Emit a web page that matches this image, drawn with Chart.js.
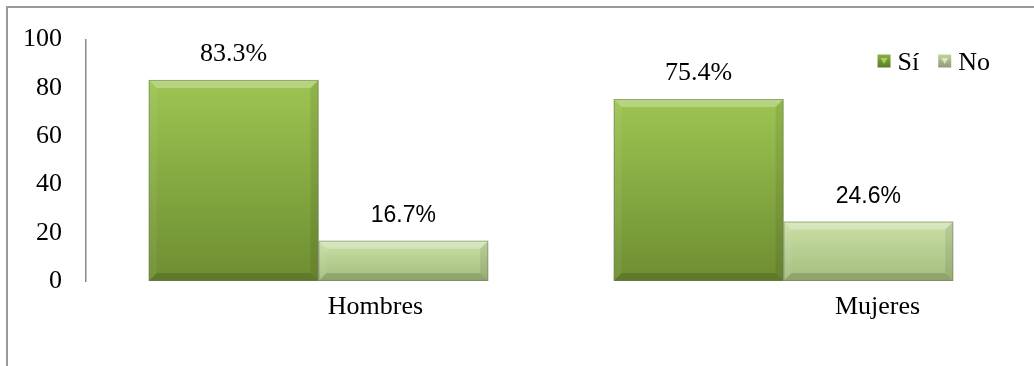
<!DOCTYPE html>
<html>
<head>
<meta charset="utf-8">
<script src="https://cdn.jsdelivr.net/npm/chart.js@4/dist/chart.umd.min.js"></script>
<style>
  html, body { margin: 0; padding: 0; background: #fff; }
  .wrap { position: relative; width: 1034px; height: 366px; overflow: hidden; }
  .frame { position: absolute; left: 6px; top: 6px; right: -10px; bottom: -10px;
           border-top: 2px solid #9a9a9a; border-left: 2px solid #9a9a9a; pointer-events: none; }
  canvas { display: block; }
</style>
</head>
<body>
<div class="wrap">
  <canvas id="chart" width="1034" height="366"></canvas>
  <div class="frame"></div>
</div>
<script>
const categories = ['Hombres', 'Mujeres']
const seriesNames = ['Sí', 'No']
const siValues = [83.3, 75.4]
const noValues = [16.7, 24.6]
const yTicks = [0, 20, 40, 60, 80, 100]

// top / bottom colours of each series' gradient
const fills = [
  ['#9dc552', '#6e8d31'],
  ['#cadfa6', '#a4bd7c']
]

const SERIF = '"Liberation Serif", "Times New Roman", serif'
const SANS = '"Liberation Sans", Arial, sans-serif'

function barGradient (idx) {
  return function (ctx) {
    const chart = ctx.chart
    const y = chart.scales && chart.scales.y
    if (!chart.chartArea || !y || ctx.raw == null) return fills[idx][0]
    const top = y.getPixelForValue(ctx.raw)
    const bottom = y.getPixelForValue(0)
    const g = chart.ctx.createLinearGradient(0, top, 0, bottom)
    g.addColorStop(0, fills[idx][0])
    g.addColorStop(1, fills[idx][1])
    return g
  }
}

// beveled edges on each bar
const bevelPlugin = {
  id: 'bevel',
  afterDatasetsDraw (chart) {
    const c = chart.ctx
    const b = 8
    chart.data.datasets.forEach((ds, i) => {
      chart.getDatasetMeta(i).data.forEach(bar => {
        const l = bar.x - bar.width / 2
        const r = bar.x + bar.width / 2
        const t = bar.y
        const bo = bar.base
        const poly = (pts, color) => {
          c.beginPath()
          c.moveTo(pts[0][0], pts[0][1])
          pts.slice(1).forEach(p => c.lineTo(p[0], p[1]))
          c.closePath()
          c.fillStyle = color
          c.fill()
        }
        c.save()
        poly([[l, t], [r, t], [r - b, t + b], [l + b, t + b]], 'rgba(255,255,255,0.28)')
        poly([[l, t], [l + b, t + b], [l + b, bo - b], [l, bo]], 'rgba(255,255,255,0.06)')
        poly([[r, t], [r, bo], [r - b, bo - b], [r - b, t + b]], 'rgba(0,0,0,0.08)')
        poly([[l, bo], [r, bo], [r - b, bo - b], [l + b, bo - b]], 'rgba(0,0,0,0.14)')
        c.strokeStyle = 'rgba(110,120,100,0.5)'
        c.lineWidth = 1
        c.strokeRect(l + 0.5, t + 0.5, bar.width - 1, bo - t - 1)
        c.restore()
      })
    })
  }
}

// value labels above the bars, category labels and the legend
const textPlugin = {
  id: 'texts',
  afterDraw (chart) {
    const c = chart.ctx
    const area = chart.chartArea
    c.save()
    c.fillStyle = '#000'
    c.textAlign = 'center'
    c.textBaseline = 'alphabetic'
    chart.data.datasets.forEach((ds, i) => {
      c.font = i === 0 ? '26px ' + SERIF : '23px ' + SANS
      chart.getDatasetMeta(i).data.forEach((bar, j) => {
        c.fillText(ds.data[j].toFixed(1) + '%', bar.x, bar.y - 19)
      })
    })

    const xs = chart.scales.x
    const shift = [57, 94]
    c.font = '26px ' + SERIF
    categories.forEach((name, i) => {
      c.fillText(name, xs.getPixelForValue(i) + shift[i], area.bottom + 33)
    })

    // legend, right aligned near the top of the plot
    c.textAlign = 'left'
    const box = 13
    const gap = 7
    const spacing = 19
    const widths = seriesNames.map(n => c.measureText(n).width)
    let total = 0
    widths.forEach((w, i) => { total += box + gap + w + (i ? spacing : 0) })
    let x = area.right - 26 - total
    const cy = 61
    seriesNames.forEach((name, i) => {
      const g = c.createLinearGradient(0, cy - box / 2, 0, cy + box / 2)
      g.addColorStop(0, i === 0 ? '#8bb043' : '#c2d29f')
      g.addColorStop(1, i === 0 ? '#5d7a28' : '#8d9c72')
      c.fillStyle = g
      c.fillRect(x, cy - box / 2, box, box)
      c.fillStyle = i === 0 ? 'rgba(180,220,110,0.8)' : 'rgba(230,240,200,0.8)'
      c.beginPath()
      c.moveTo(x + 3, cy - 3)
      c.lineTo(x + box - 3, cy - 3)
      c.lineTo(x + box / 2, cy + 3)
      c.closePath()
      c.fill()
      c.fillStyle = '#000'
      c.fillText(name, x + box + gap, cy + 9)
      x += box + gap + widths[i] + spacing
    })
    c.restore()
  }
}

document.addEventListener('DOMContentLoaded', () => {
  const data = {
    labels: categories,
    datasets: [
      {
        label: seriesNames[0],
        data: siValues,
        backgroundColor: barGradient(0),
        borderWidth: 0
      },
      {
        label: seriesNames[1],
        data: noValues,
        backgroundColor: barGradient(1),
        borderWidth: 0
      }
    ]
  }

  const config = {
    type: 'bar',
    data: data,
    options: {
      responsive: false,
      animation: false,
      layout: {
        padding: { left: 6, right: 18, top: 18, bottom: 85 }
      },
      datasets: {
        bar: {
          categoryPercentage: 0.73,
          barPercentage: 1
        }
      },
      scales: {
        x: {
          display: false
        },
        y: {
          min: 0,
          max: 100,
          afterBuildTicks (scale) {
            scale.ticks = yTicks.map(v => ({ value: v }))
          },
          afterFit (scale) {
            scale.width = 80
          },
          grid: {
            display: false,
            drawTicks: false
          },
          border: {
            display: true,
            color: '#8a8a8a',
            width: 1.5
          },
          ticks: {
            padding: 24,
            color: '#000',
            font: {
              family: SERIF,
              size: 26
            }
          }
        }
      },
      plugins: {
        legend: {
          display: false
        },
        tooltip: {
          enabled: false
        }
      }
    },
    plugins: [bevelPlugin, textPlugin]
  }

  const ctx = document.getElementById('chart').getContext('2d')
  new Chart(ctx, config)
})
</script>
</body>
</html>
